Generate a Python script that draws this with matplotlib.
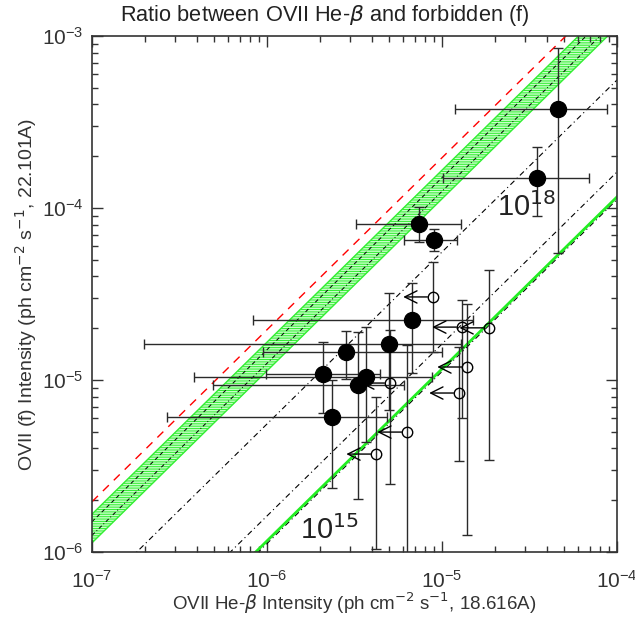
import numpy as np
import matplotlib
matplotlib.use("Agg")
import matplotlib.pyplot as plt

plt.rcParams['font.family'] = ['Liberation Sans', 'DejaVu Sans']
plt.rcParams['mathtext.fontset'] = 'dejavusans'

# ---------------- data ----------------
# detections (filled circles)
det_x    = [4.60e-5, 3.49e-5, 7.39e-6, 9.00e-6, 6.74e-6, 4.98e-6, 2.83e-6, 2.09e-6, 3.68e-6, 3.31e-6, 2.35e-6]
det_y    = [3.76e-4, 1.49e-4, 8.07e-5, 6.52e-5, 2.23e-5, 1.62e-5, 1.455e-5, 1.083e-5, 1.041e-5, 9.35e-6, 6.09e-6]
det_xlo  = [1.19e-5, 1.01e-5, 3.23e-6, 6.07e-6, 8.32e-7, 1.98e-7, 9.49e-7, 9.87e-7, 3.83e-7, 4.91e-7, 2.68e-7]
det_xhi  = [8.77e-5, 6.92e-5, 1.28e-5, 1.22e-5, 1.50e-5, 1.28e-5, 1.00e-5, 4.42e-6, 8.77e-6, 6.07e-6, 4.85e-6]
det_ylo  = [5.47e-5, 8.98e-5, 6.34e-5, 5.62e-5, 1.10e-5, 6.69e-6, 1.01e-5, 6.43e-6, 4.36e-6, 2.03e-6, 2.36e-6]
det_yhi  = [8.52e-4, 2.26e-4, 1.01e-4, 7.55e-5, 3.66e-5, 3.20e-5, 1.93e-5, 1.66e-5, 2.03e-5, 1.90e-5, 1.00e-5]

# upper limits in He-beta (open circles with left arrows)
ul_x   = [8.88e-6, 1.30e-5, 1.86e-5, 1.39e-5, 1.25e-5, 5.04e-6, 6.31e-6, 4.20e-6]
ul_y   = [3.04e-5, 2.03e-5, 2.01e-5, 1.19e-5, 8.40e-6, 9.60e-6, 4.98e-6, 3.71e-6]
ul_ylo = [1.455e-5, 6.01e-6, 3.43e-6, 1.255e-6, 3.38e-6, 2.48e-6, 8.0e-7, 1.04e-6]
ul_yhi = [4.85e-5, 2.92e-5, 4.36e-5, 2.77e-5, 1.555e-5, 1.95e-5, 1.60e-5, 7.96e-6]

# model ratio lines  f / He-beta
red_ratio = 19.6
band_ratio = (11.3, 16.6)
band_inner = (15.0, 12.5)
dashdot_ratios = [5.55, 1.62]
green_ratio = 1.16
green_under_ratio = 1.12

x_ends = np.array([1e-7, 1e-4])

# ---------------- figure ----------------
W, H = 635, 618
fig = plt.figure(figsize=(W/100, H/100), dpi=100)
ax = fig.add_axes([92/W, 1-552/H, (617-92)/W, (552-36)/H])
ax.set_xscale('log'); ax.set_yscale('log')
ax.set_xlim(1e-7, 1e-4); ax.set_ylim(1e-6, 1e-3)

# green band
ax.fill_between(x_ends, band_ratio[0]*x_ends, band_ratio[1]*x_ends,
                facecolor='#33ee33', edgecolor='#c8ffc8', hatch='-------',
                linewidth=0, zorder=1)
ax.plot(x_ends, band_ratio[1]*x_ends, color='#33ee33', lw=1, zorder=1.5)
ax.plot(x_ends, band_ratio[0]*x_ends, color='#33ee33', lw=1, zorder=1.5)
ax.plot(x_ends, band_inner[0]*x_ends, color='k', lw=0.7, ls=(0, (4, 3)), zorder=2)
ax.plot(x_ends, band_inner[1]*x_ends, color='k', lw=0.7, ls=(0, (4, 2.5, 1, 2.5)), zorder=2)

# red dashed
ax.plot(x_ends, red_ratio*x_ends, color='red', lw=1, ls=(0, (6, 5)), zorder=2)

# dash-dot lines
for r in dashdot_ratios:
    ax.plot(x_ends, r*x_ends, color='k', lw=0.8, ls=(0, (5, 3, 1, 3)), zorder=2)

# green line with black dash-dot underneath
ax.plot(x_ends, green_under_ratio*x_ends, color='k', lw=0.8, ls=(0, (5, 3, 1, 3)), zorder=2)
ax.plot(x_ends, green_ratio*x_ends, color='#22ee22', lw=2, zorder=2.5)

# detections
dx = np.array(det_x); dy = np.array(det_y)
xerr = [dx-np.array(det_xlo), np.array(det_xhi)-dx]
yerr = [dy-np.array(det_ylo), np.array(det_yhi)-dy]
ax.errorbar(dx, dy, xerr=xerr, yerr=yerr, fmt='o', ms=11.5, mfc='k', mec='k',
            ecolor='#2a2a2a', elinewidth=1, capsize=3.5, capthick=1, zorder=4)

# upper limits
ux = np.array(ul_x); uy = np.array(ul_y)
uyerr = [uy-np.array(ul_ylo), np.array(ul_yhi)-uy]
ax.errorbar(ux, uy, yerr=uyerr, fmt='o', ms=7.5, mfc='none', mec='k', mew=1,
            ecolor='#2a2a2a', elinewidth=1, capsize=3.5, capthick=1, zorder=4)
ARROW_DEX = 0.17
for xx, yy in zip(ul_x, ul_y):
    ax.annotate('', xy=(xx*10**(-ARROW_DEX), yy), xytext=(xx, yy),
                arrowprops=dict(arrowstyle='->', lw=1, color='k',
                                mutation_scale=22, shrinkA=4, shrinkB=0),
                zorder=4)

# labels on lines
ax.text(2.06e-5, 1.01e-4, r'10$^{18}$', fontsize=21, ha='left', va='center', color='#222222', zorder=5)
ax.text(1.544e-6, 1.34e-6, r'10$^{15}$', fontsize=21, ha='left', va='center', color='#222222', zorder=5)

# ticks
ax.tick_params(which='both', direction='in', top=True, right=True, colors='#333333',
               labelcolor='#333333', labelsize=15)
ax.tick_params(which='major', length=8, width=1)
ax.tick_params(axis='x', which='major', pad=13)
ax.tick_params(axis='y', which='major', pad=6)
ax.tick_params(which='minor', length=4.5, width=1)
for s in ax.spines.values():
    s.set_linewidth(1.2); s.set_color('#333333')

ax.set_xlabel(r'OVII He-$\beta$ Intensity (ph cm$^{-2}$ s$^{-1}$, 18.616A)', fontsize=13.5, color='#333333')
ax.xaxis.set_label_coords(0.5, (552-591)/516.0)
ax.set_ylabel(r'OVII (f) Intensity (ph cm$^{-2}$ s$^{-1}$, 22.101A)', fontsize=14, color='#333333', labelpad=2)
fig.text(325/W, 1-15/H, r'Ratio between OVII He-$\beta$ and forbidden (f)', fontsize=15.7,
         ha='center', va='center', color='#222222')

fig.savefig('out.png', dpi=100)
